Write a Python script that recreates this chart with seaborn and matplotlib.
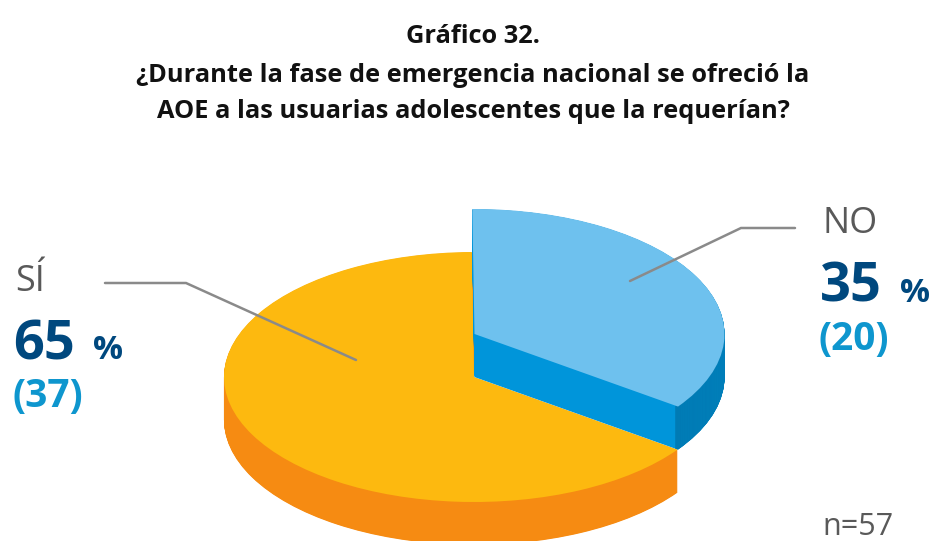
import matplotlib
matplotlib.use("Agg")
import matplotlib.pyplot as plt
from matplotlib.lines import Line2D
import seaborn as sns

# Datos del gráfico
categories = ["NO", "SÍ"]
shares = [35, 65]
counts = [20, 37]
n_total = 57
title_lines = [
    "Gráfico 32.",
    "¿Durante la fase de emergencia nacional se ofreció la",
    "AOE a las usuarias adolescentes que la requerían?",
]

W, H = 933, 541
CX, CY, RX, RY = 473, 377, 250, 125
DEPTH = 43 / RY

sns.set_theme(style="white")
plt.rcParams["font.family"] = ["Open Sans", "DejaVu Sans"]
top_colors = sns.color_palette(["#6EC1EE", "#FDB90F"])
cut_colors = sns.color_palette(["#0095DA", "#F68B12"])
rim_blue = "#0073A8"
dark_blue = "#00487E"
mid_blue = "#0E96CE"
gray_text = "#595959"
gray_line = "#8A8A8A"

fig = plt.figure(figsize=(W / 100, H / 100), dpi=100)
ax = fig.add_axes([0, 0, 1, 1])


def draw_slice(idx, color, center, width=None):
    props = {"linewidth": 0}
    if width:
        props["width"] = width
    wedges, _ = ax.pie(shares, startangle=90.5, counterclock=False, center=center,
                       colors=[color, color], wedgeprops=props, frame=True)
    wedges[1 - idx].set_visible(False)


def draw_extruded(idx, center, rim=None):
    # el grosor se arma apilando pies desde abajo hacia arriba
    steps = 86
    for k in range(steps, 0, -1):
        y = center[1] - DEPTH * k / steps
        draw_slice(idx, cut_colors[idx], (center[0], y))
        if rim:
            draw_slice(idx, rim, (center[0], y), width=0.015)
    draw_slice(idx, top_colors[idx], center)


draw_extruded(1, (0.004, 0))
draw_extruded(0, (0.006, 43 / RY), rim=rim_blue)

ax.set_aspect("auto")
ax.set_xlim(-CX / RX, (W - CX) / RX)
ax.set_ylim((CY - H) / RY, CY / RY)
ax.axis("off")


def put(x, y, s, **kw):
    fig.text(x / W, 1 - y / H, s, va="baseline", **kw)


def leader(xs, ys):
    fig.add_artist(Line2D([x / W for x in xs], [1 - y / H for y in ys],
                          color=gray_line, lw=1.8, solid_joinstyle="miter"))


# Título
for line, y in zip(title_lines, [43, 82, 118]):
    put(473, y, line, ha="center", fontsize=18.3, fontweight="bold", color="#111111")

# Etiquetas
for i, (lx, ly) in enumerate([(822, 233), (15, 291)]):
    base = ly + (69 if i == 0 else 68)
    put(lx, ly, categories[i], fontsize=26, color=gray_text)
    put(lx - 2, base, str(shares[i]), fontsize=39, fontweight="bold", color=dark_blue)
    put(lx + 78, base, "%", fontsize=24, fontweight="bold", color=dark_blue)
    put(lx - 3, base + 48, f"({counts[i]})", fontsize=28, fontweight="bold", color=mid_blue)

leader([630, 741, 795], [281, 228, 228])
leader([356, 186, 105], [360, 283, 283])

put(822, 535, f"n={n_total}", fontsize=22, color=gray_text)

fig.savefig("out.png", dpi=100)
